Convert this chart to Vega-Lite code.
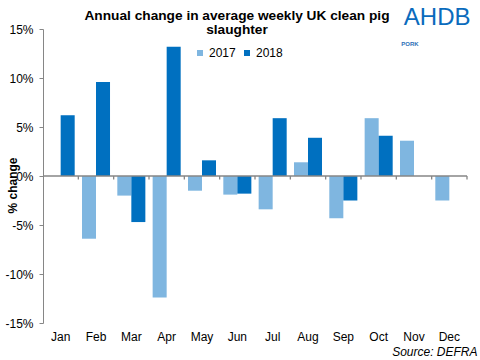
{
  "$schema": "https://vega.github.io/schema/vega-lite/v6.json",
  "autosize": {"type": "none"},
  "padding": {"left": 43, "top": 29, "right": 13, "bottom": 37},
  "width": 424,
  "height": 294,
  "title": {
    "text": ["Annual  change in average weekly UK clean pig", "slaughter"],
    "font": "Liberation Sans",
    "fontSize": 13.7,
    "fontWeight": "bold",
    "color": "#000000",
    "anchor": "middle",
    "frame": "group",
    "baseline": "alphabetic",
    "offset": -43,
    "dx": -18,
    "lineHeight": 14
  },
  "config": {
    "view": {"stroke": null},
    "font": "Liberation Sans",
    "legend": {
      "orient": "none",
      "legendX": 151,
      "legendY": 18,
      "direction": "horizontal",
      "symbolType": "square",
      "symbolSize": 36,
      "symbolStrokeWidth": 0,
      "labelFontSize": 12,
      "labelColor": "#000000",
      "labelOffset": 3,
      "columnPadding": 5,
      "title": null
    }
  },
  "data": {
    "values": [
      {"month": "Jan", "year": "2018", "value": 6.2},
      {"month": "Feb", "year": "2017", "value": -6.4},
      {"month": "Feb", "year": "2018", "value": 9.6},
      {"month": "Mar", "year": "2017", "value": -2.0},
      {"month": "Mar", "year": "2018", "value": -4.7},
      {"month": "Apr", "year": "2017", "value": -12.4},
      {"month": "Apr", "year": "2018", "value": 13.2},
      {"month": "May", "year": "2017", "value": -1.5},
      {"month": "May", "year": "2018", "value": 1.6},
      {"month": "Jun", "year": "2017", "value": -1.9},
      {"month": "Jun", "year": "2018", "value": -1.8},
      {"month": "Jul", "year": "2017", "value": -3.4},
      {"month": "Jul", "year": "2018", "value": 5.9},
      {"month": "Aug", "year": "2017", "value": 1.4},
      {"month": "Aug", "year": "2018", "value": 3.9},
      {"month": "Sep", "year": "2017", "value": -4.3},
      {"month": "Sep", "year": "2018", "value": -2.5},
      {"month": "Oct", "year": "2017", "value": 5.9},
      {"month": "Oct", "year": "2018", "value": 4.1},
      {"month": "Nov", "year": "2017", "value": 3.6},
      {"month": "Dec", "year": "2017", "value": -2.5}
    ]
  },
  "layer": [
    {
      "mark": {"type": "bar"},
      "encoding": {
        "x": {
          "field": "month",
          "type": "nominal",
          "sort": ["Jan","Feb","Mar","Apr","May","Jun","Jul","Aug","Sep","Oct","Nov","Dec"],
          "scale": {"paddingInner": 0, "paddingOuter": 0},
          "axis": {
            "orient": "bottom",
            "domain": false,
            "ticks": false,
            "labelAngle": 0,
            "labelFontSize": 12,
            "labelColor": "#000000",
            "labelPadding": 8,
            "title": "Source: DEFRA",
            "titleFontSize": 12,
            "titleFontStyle": "italic",
            "titleFontWeight": "normal",
            "titleColor": "#000000",
            "titleAnchor": "end",
            "titleAlign": "right",
            "titleBaseline": "alphabetic",
            "titleX": 434,
            "titleY": 32
          }
        },
        "xOffset": {
          "field": "year",
          "type": "nominal",
          "scale": {"paddingInner": 0, "paddingOuter": 0.26}
        },
        "y": {
          "field": "value",
          "type": "quantitative",
          "scale": {"domain": [-15, 15], "nice": false},
          "axis": {
            "values": [-15, -10, -5, 0, 5, 10, 15],
            "labelExpr": "datum.value + '%'",
            "grid": false,
            "domainColor": "#868686",
            "tickColor": "#868686",
            "tickSize": 4,
            "labelFontSize": 12,
            "labelColor": "#000000",
            "labelPadding": 6,
            "title": "% change",
            "titleFontSize": 12,
            "titleFontWeight": "bold",
            "titleColor": "#000000",
            "titleAngle": 270,
            "titleBaseline": "middle",
            "titleX": -31,
            "titleY": 156
          }
        },
        "color": {
          "field": "year",
          "type": "nominal",
          "scale": {"domain": ["2017", "2018"], "range": ["#7fb6e0", "#0070c0"]},
          "legend": {}
        }
      }
    },
    {
      "data": {"values": [{"zero": 0}]},
      "mark": {"type": "rule", "color": "#868686", "strokeWidth": 1.3},
      "encoding": {
        "y": {"field": "zero", "type": "quantitative"}
      }
    },
    {
      "data": {
        "values": [
          {"month": "Jan"}, {"month": "Feb"}, {"month": "Mar"}, {"month": "Apr"},
          {"month": "May"}, {"month": "Jun"}, {"month": "Jul"}, {"month": "Aug"},
          {"month": "Sep"}, {"month": "Oct"}, {"month": "Nov"}, {"month": "Dec"}
        ]
      },
      "mark": {"type": "rule", "color": "#868686", "strokeWidth": 1.3},
      "encoding": {
        "x": {
          "field": "month",
          "type": "nominal",
          "bandPosition": 1,
          "sort": ["Jan","Feb","Mar","Apr","May","Jun","Jul","Aug","Sep","Oct","Nov","Dec"],
          "axis": {
            "orient": "top",
            "domain": false,
            "ticks": false,
            "tickSize": 0,
            "labelOverlap": false,
            "labelExpr": "datum.value == 'Nov' ? 'PORK' : ''",
            "labelFontSize": 6,
            "labelFontWeight": "bold",
            "labelColor": "#2e6fb7",
            "labelPadding": -17,
            "labelOffset": -4,
            "labelAngle": 0,
            "title": "AHDB",
            "titleFontSize": 24,
            "titleFontWeight": "normal",
            "titleColor": "#0a6bbd",
            "titleAnchor": "end",
            "titleAlign": "right",
            "titleBaseline": "alphabetic",
            "titleX": 427,
            "titleY": -5
          }
        },
        "y": {"datum": 0},
        "y2": {"datum": -0.35}
      }
    }
  ],
  "resolve": {"axis": {"x": "independent"}}
}
